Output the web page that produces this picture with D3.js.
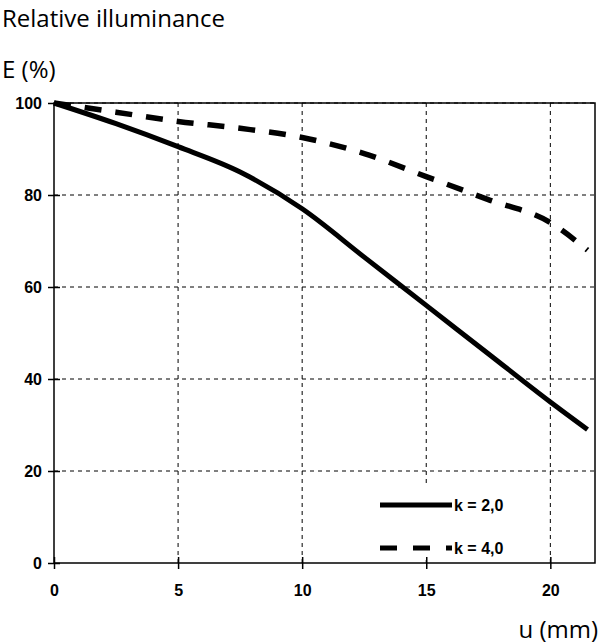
<!DOCTYPE html>
<html><head><meta charset="utf-8">
<script src="https://cdn.jsdelivr.net/npm/d3@7"></script>
<style>body{margin:0;background:#fff}</style>
</head><body>
<svg id="c" width="600" height="643"></svg>
<script>
const uK2 = [0, 2.5, 5, 7.5, 10, 12.5, 15, 17.5, 20, 21.5];
const eK2 = [100, 95.5, 90.5, 85, 77, 66.5, 56, 45.5, 35, 29];
const uK4 = [0, 2.5, 5, 7.5, 10, 12.5, 15, 17.5, 20, 21.5];
const eK4 = [100, 98, 96, 94.5, 92.5, 89, 84, 79, 74, 68];
const xTicks = [0, 5, 10, 15, 20];
const yTicks = [0, 20, 40, 60, 80, 100];

const svg = d3.select("#c");
const x = d3.scaleLinear().domain([0, 21.8]).range([54, 595]);
const y = d3.scaleLinear().domain([0, 100]).range([563, 103]);

// grid
svg.append("g").selectAll("line").data(xTicks.slice(1)).join("line")
  .attr("x1", d => x(d)).attr("x2", d => x(d)).attr("y1", y(100)).attr("y2", y(0))
  .attr("stroke", "#000").attr("stroke-dasharray", "4,4").attr("stroke-width", 1);
svg.append("g").selectAll("line").data(yTicks.slice(1)).join("line")
  .attr("x1", x(0)).attr("x2", 595).attr("y1", d => y(d)).attr("y2", d => y(d))
  .attr("stroke", "#000").attr("stroke-dasharray", "4,4").attr("stroke-width", 1);

// legend backdrop
svg.append("rect").attr("x", 366).attr("y", 486).attr("width", 174).attr("height", 74).attr("fill", "#fff");

// frame
svg.append("rect").attr("x", x(0)).attr("y", y(100)).attr("width", 595 - x(0)).attr("height", y(0) - y(100))
  .attr("fill", "none").attr("stroke", "#000").attr("stroke-width", 1.5);

const xAxis = svg.append("g").attr("transform", `translate(0,${y(0)})`)
  .call(d3.axisBottom(x).tickValues(xTicks).tickSize(6).tickSizeOuter(0));
xAxis.select(".domain").remove();
xAxis.selectAll(".tick line").attr("y1", -6).attr("stroke-width", 1.5);
xAxis.selectAll("text").attr("y", 22).attr("dy", "0.71em");
const yAxis = svg.append("g").attr("transform", `translate(${x(0)},0)`)
  .call(d3.axisLeft(y).tickValues(yTicks).tickSize(6).tickSizeOuter(0));
yAxis.select(".domain").remove();
yAxis.selectAll(".tick line").attr("x1", 6).attr("stroke-width", 1.5);
yAxis.selectAll("text").attr("x", -12);
svg.selectAll(".tick text").style("font-family", "Liberation Sans, Arial, sans-serif")
  .style("font-weight", "bold").style("font-size", "16px").attr("fill", "#000");

const line = d3.line().curve(d3.curveMonotoneX);
svg.append("path").attr("d", line(uK2.map((u, i) => [x(u), y(eK2[i])])))
  .attr("fill", "none").attr("stroke", "#000").attr("stroke-width", 5);
svg.append("path").attr("d", line(uK4.map((u, i) => [x(u), y(eK4[i])])))
  .attr("fill", "none").attr("stroke", "#000").attr("stroke-width", 5.5).attr("stroke-dasharray", "17,14");

// legend
const leg = [["k = 2,0", null, 505], ["k = 4,0", "17,16", 548]];
leg.forEach(([t, da, ly]) => {
  svg.append("line").attr("x1", 380).attr("x2", 452).attr("y1", ly).attr("y2", ly)
    .attr("stroke", "#000").attr("stroke-width", 5).attr("stroke-dasharray", da);
  svg.append("text").attr("x", 454).attr("y", ly + 6).text(t)
    .style("font-family", "Liberation Sans, Arial, sans-serif").style("font-weight", "bold").style("font-size", "16px");
});

const tf = "Open Sans, Noto Sans, sans-serif";
svg.append("text").attr("x", 2).attr("y", 27).text("Relative illuminance").style("font-family", tf).style("font-size", "24px");
svg.append("text").attr("x", 2).attr("y", 78).text("E (%)").style("font-family", tf).style("font-size", "24px");
svg.append("text").attr("x", 598).attr("y", 638).attr("text-anchor", "end").text("u (mm)").style("font-family", tf).style("font-size", "24px");
</script>
</body></html>
